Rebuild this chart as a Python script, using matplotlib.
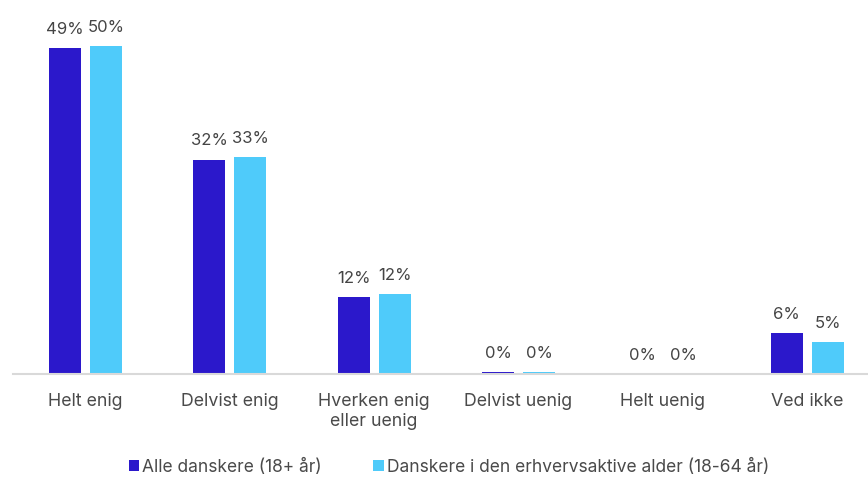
import numpy as np
import matplotlib.pyplot as plt

kategorier = ['Helt enig', 'Delvist enig', 'Hverken enig\neller uenig',
              'Delvist uenig', 'Helt uenig', 'Ved ikke']
alle = [49.3, 32.4, 11.6, 0.35, 0.0, 6.2]
erhverv = [49.6, 32.8, 12.1, 0.25, 0.0, 4.8]
serier = ['Alle danskere (18+ år)', 'Danskere i den erhvervsaktive alder (18-64 år)']
farver = ['#2B18CB', '#4FCBFA']

plt.rcParams['font.family'] = ['Inter', 'DejaVu Sans']

fig = plt.figure(figsize=(8.68, 4.8), dpi=100)
ax = fig.add_axes([13 / 868, 106 / 480, 855 / 868, 364 / 480])

x = np.arange(len(kategorier))
bredde = 0.222
forskyd = 0.142
for vals, navn, farve, d in zip([alle, erhverv], serier, farver, [-forskyd, forskyd]):
    bars = ax.bar(x + d, vals, width=bredde, color=farve, label=navn)
    for b, v in zip(bars, vals):
        ax.annotate(f'{round(v):.0f}%', (b.get_x() + b.get_width() / 2, b.get_height()),
                    xytext=(0, 8), textcoords='offset points', ha='center', va='bottom',
                    fontsize=12, color='#444444')

ax.set_xlim(-0.5, 5.42)
ax.set_ylim(0, 55)
ax.set_xticks(x)
ax.set_xticklabels(kategorier, fontsize=12.8, color='#4a4a4a', linespacing=1.2)
ax.tick_params(axis='x', length=0, pad=14)
ax.set_yticks([])
for s in ['top', 'right', 'left']:
    ax.spines[s].set_visible(False)
ax.spines['bottom'].set_color('#d9d9d9')
ax.spines['bottom'].set_linewidth(1.5)

leg = fig.legend(loc='center', bbox_to_anchor=(0.517, 0.027), ncol=2, frameon=False,
                 fontsize=12.5, handlelength=0.6, handleheight=0.6, handletextpad=0.15,
                 columnspacing=3.0)
for t in leg.get_texts():
    t.set_color('#4a4a4a')

fig.savefig('out.png', dpi=100)
